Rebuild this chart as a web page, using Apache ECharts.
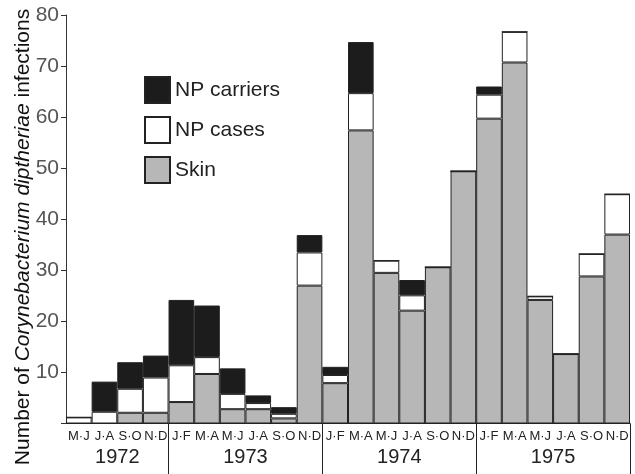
<!DOCTYPE html>
<html>
<head>
<meta charset="utf-8">
<script src="https://cdn.jsdelivr.net/npm/echarts@6/dist/echarts.min.js"></script>
<style>
html,body{margin:0;padding:0;background:#fff;}
#c{width:635px;height:474px;}
</style>
</head>
<body>
<div id="c"></div>
<script>
var years = ['1972', '1973', '1974', '1975'];
var monthsByYear = [
  ['M·J', 'J·A', 'S·O', 'N·D'],
  ['J·F', 'M·A', 'M·J', 'J·A', 'S·O', 'N·D'],
  ['J·F', 'M·A', 'M·J', 'J·A', 'S·O', 'N·D'],
  ['J·F', 'M·A', 'M·J', 'J·A', 'S·O', 'N·D']
];
var skin = [0, 0, 2.1, 2.1, 4.2, 9.7, 2.8, 2.8, 1.0, 27.0, 7.9, 57.4, 29.5, 22.1, 30.6, 49.4, 59.7, 70.7, 24.2, 13.6, 28.8, 37.0];
var npCases = [1.2, 2.3, 4.7, 6.9, 7.2, 3.3, 3.0, 1.2, 0.9, 6.5, 1.6, 7.3, 2.4, 3.0, 0, 0, 4.7, 6.0, 0.7, 0, 4.4, 7.9];
var npCarriers = [0, 5.9, 5.2, 4.3, 12.8, 10.1, 5.0, 1.5, 1.3, 3.4, 1.6, 10.0, 0, 3.0, 0, 0, 1.6, 0, 0, 0, 0, 0];
var yTicks = [0, 10, 20, 30, 40, 50, 60, 70, 80];

var categories = [], monthLabels = [], yearStart = [], yearCenter = {};
var idx = 0;
monthsByYear.forEach(function (ms, yi) {
  yearStart.push(idx);
  yearCenter[idx + ms.length / 2] = years[yi];
  ms.forEach(function (m) { categories.push(years[yi] + ' ' + m); monthLabels.push(m); idx++; });
});
var nCat = categories.length;

var font = '"Liberation Sans", Arial, Helvetica, sans-serif';
var chart = echarts.init(document.getElementById('c'), null, {renderer: 'canvas'});
var border = {borderColor: '#222', borderWidth: 1};
chart.setOption({
  animation: false,
  backgroundColor: '#fff',
  textStyle: {fontFamily: font},
  grid: {left: 66, right: 5, top: 15, bottom: 50.5, containLabel: false},
  legend: {
    orient: 'vertical', left: 139, top: 71,
    itemWidth: 25, itemHeight: 26, itemGap: 12,
    icon: 'rect',
    data: ['NP carriers', 'NP cases', 'Skin'],
    textStyle: {fontSize: 21, color: '#222', fontFamily: font}
  },
  xAxis: [{
    type: 'category',
    data: categories,
    boundaryGap: true,
    axisLine: {lineStyle: {color: '#222', width: 1}},
    axisTick: {
      show: true, length: 51, alignWithLabel: false,
      interval: function (i) { return yearStart.indexOf(i) > 0; },
      lineStyle: {color: '#222', width: 1}
    },
    axisLabel: {
      interval: 0, margin: 6, fontSize: 13, color: '#222', fontFamily: font,
      formatter: function (v, i) { return monthLabels[i]; }
    }
  }, {
    type: 'value', min: 0, max: nCat, interval: 1, position: 'bottom',
    axisLine: {show: false}, axisTick: {show: false}, splitLine: {show: false},
    axisLabel: {
      margin: 24, fontSize: 20, color: '#222', fontFamily: font,
      showMinLabel: true, showMaxLabel: true, hideOverlap: false,
      formatter: function (v) { return yearCenter[v] || ''; }
    }
  }],
  yAxis: {
    type: 'value', min: yTicks[0], max: yTicks[yTicks.length - 1], interval: 10,
    axisLine: {show: true, lineStyle: {color: '#333', width: 1}},
    axisTick: {show: true, length: 5, lineStyle: {color: '#333'}},
    splitLine: {show: false},
    axisLabel: {
      margin: 7, fontSize: 21, color: '#555', fontFamily: font,
      formatter: function (v) { return v === 0 ? '' : String(v); }
    }
  },
  graphic: [{
    type: 'text',
    x: 23, y: 237,
    rotation: Math.PI / 2,
    style: {
      text: 'Number of {i|Corynebacterium diptheriae} infections',
      rich: {i: {fontStyle: 'italic', fontSize: 21, fontFamily: font, fill: '#111'}},
      fontSize: 21, fontFamily: font, fill: '#111',
      align: 'center', verticalAlign: 'middle'
    }
  }],
  series: [
    {name: 'Skin', type: 'bar', stack: 'a', data: skin, barCategoryGap: '0%',
     itemStyle: Object.assign({color: '#b7b7b7'}, border)},
    {name: 'NP cases', type: 'bar', stack: 'a', data: npCases, barCategoryGap: '0%',
     itemStyle: Object.assign({color: '#ffffff'}, border)},
    {name: 'NP carriers', type: 'bar', stack: 'a', data: npCarriers, barCategoryGap: '0%',
     itemStyle: Object.assign({color: '#1c1c1c'}, border)}
  ]
});
</script>
</body>
</html>
